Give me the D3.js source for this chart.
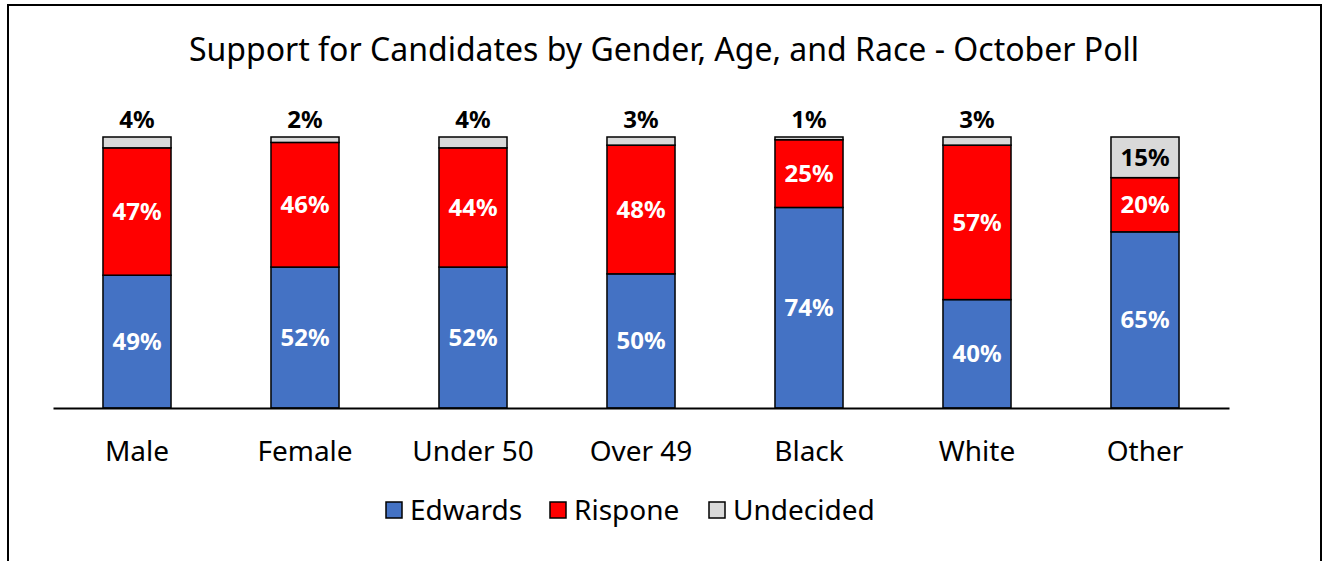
<!DOCTYPE html>
<html lang="en">
<head>
    <meta charset="UTF-8">
    <title>Support for Candidates - October Poll</title>
    <style>
        body { margin: 0; background: #fff; }
        text { font-family: "Noto Sans", "Open Sans", sans-serif; }
    </style>
</head>
<body>
    <div id="chart"></div>

    <script src="https://d3js.org/d3.v7.min.js"></script>
    <script>
        // data
        var categories = ["Male", "Female", "Under 50", "Over 49", "Black", "White", "Other"];
        var seriesNames = ["Edwards", "Rispone", "Undecided"];
        var edwards   = [49, 52, 52, 49.5, 74, 40, 65];
        var rispone   = [47, 46, 44, 47.5, 25, 57, 20];
        var undecided = [4, 2, 4, 3, 1, 3, 15];
        var colors = ["#4472C4", "#FF0000", "#D9D9D9"];

        var W = 1323, H = 561;
        var margin = { top: 137, left: 53, right: 94, bottom: 153 };
        var width = W - margin.left - margin.right;
        var height = H - margin.top - margin.bottom;

        var rows = categories.map(function(c, i){
            return { cat: c, Edwards: edwards[i], Rispone: rispone[i], Undecided: undecided[i] };
        });
        var stacked = d3.stack().keys(seriesNames)(rows);
        var pct = function(v){ return d3.format(".0f")(v) + "%"; };

        var svg = d3.select("#chart")
            .append("svg")
                .attr("width", W)
                .attr("height", H);

        // outer frame (bottom edge runs off the picture)
        svg.append("rect")
            .attr("x", 8).attr("y", 5)
            .attr("width", 1313).attr("height", 600)
            .style("fill", "none")
            .style("stroke", "#000")
            .style("stroke-width", 2);

        svg.append("text")
            .attr("x", 664).attr("y", 50)
            .attr("dy", "0.35em")
            .attr("text-anchor", "middle")
            .style("font-size", "32px")
            .style("fill", "#000")
            .text("Support for Candidates by Gender, Age, and Race - October Poll");

        var g = svg.append("g")
            .attr("transform", "translate(" + margin.left + "," + margin.top + ")");

        var xScale = d3.scaleBand()
            .domain(categories)
            .range([0, width])
            .paddingInner(0.595)
            .paddingOuter(0.2975);

        var yScale = d3.scaleLinear()
            .domain([0, 100])
            .range([height, 0]);

        var layers = g.selectAll("g.layer")
            .data(stacked)
            .enter()
            .append("g")
                .attr("class", "layer")
                .style("fill", function(d, i){ return colors[i]; });

        layers.selectAll("rect")
            .data(function(d){ return d; })
            .enter()
            .append("rect")
                .attr("x", function(d){ return xScale(d.data.cat); })
                .attr("y", function(d){ return yScale(d[1]); })
                .attr("width", xScale.bandwidth())
                .attr("height", function(d){ return yScale(d[0]) - yScale(d[1]); })
                .style("stroke", "#000")
                .style("stroke-width", 1.5);

        // value labels: inside when the segment is tall enough, else above the bar
        layers.each(function(layer, li){
            d3.select(this).selectAll("text")
                .data(layer)
                .enter()
                .append("text")
                    .attr("x", function(d){ return xScale(d.data.cat) + xScale.bandwidth() / 2; })
                    .attr("y", function(d){
                        var v = d[1] - d[0];
                        if (v >= 10) return (yScale(d[0]) + yScale(d[1])) / 2;
                        return yScale(d[1]) - 17;
                    })
                    .attr("dy", "0.35em")
                    .attr("text-anchor", "middle")
                    .style("font-size", "24px")
                    .style("font-weight", "bold")
                    .style("fill", function(d){
                        if (li == 2) return "#000";
                        return "#fff";
                    })
                    .text(function(d){ return pct(d[1] - d[0]); });
        });

        // H axis
        var hAxis = d3.axisBottom(xScale).tickSize(0).tickPadding(33);
        var hGuide = g.append("g")
            .attr("transform", "translate(0," + height + ")")
            .call(hAxis);
        hGuide.select("path").style("stroke", "#000").style("stroke-width", 2);
        hGuide.selectAll("text")
            .style("font-size", "28px")
            .style("font-family", "'Noto Sans', sans-serif")
            .style("fill", "#000")
            .attr("dy", "0.71em");

        // legend
        var legendX = [386, 550, 709];
        var legend = svg.append("g").selectAll("g")
            .data(seriesNames)
            .enter()
            .append("g")
                .attr("transform", function(d, i){ return "translate(" + legendX[i] + ",502)"; });
        legend.append("rect")
            .attr("width", 16).attr("height", 16)
            .style("fill", function(d, i){ return colors[i]; })
            .style("stroke", "#000")
            .style("stroke-width", 1.5);
        legend.append("text")
            .attr("x", 24).attr("y", 8)
            .attr("dy", "0.35em")
            .style("font-size", "28px")
            .style("fill", "#000")
            .text(function(d){ return d; });
    </script>
</body>
</html>
